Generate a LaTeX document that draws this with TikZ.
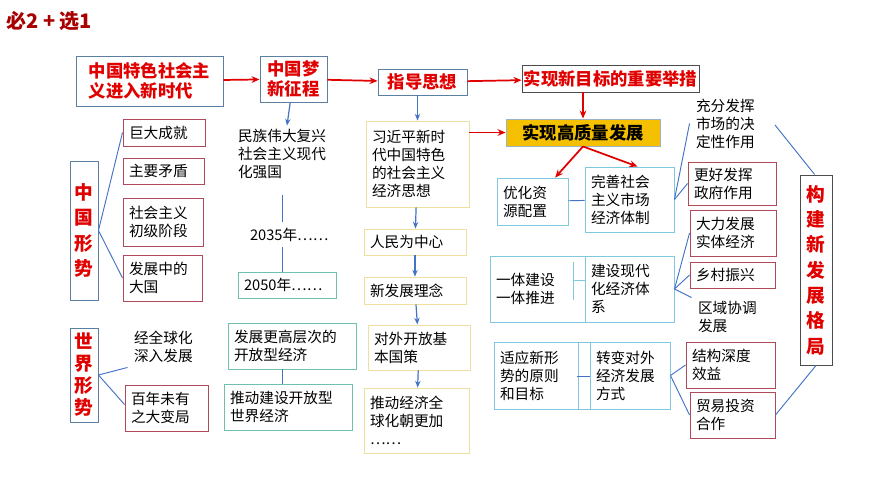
\documentclass[tikz,border=0pt]{standalone}
\usepackage{fontspec}
\setmainfont{Noto Sans CJK SC}
\usetikzlibrary{arrows.meta}
\definecolor{rd}{HTML}{E00000}
\definecolor{bg}{HTML}{5A7FA0}
\definecolor{pk}{HTML}{B04A5A}
\definecolor{tl}{HTML}{70C0B0}
\definecolor{lb}{HTML}{80C8E0}
\definecolor{yl}{HTML}{F0E0A0}
\definecolor{cb}{HTML}{4472C4}
\definecolor{og}{HTML}{F5C000}
\newcommand\mybox[7]{%
 \pgfmathsetmacro\bw{(#4-#2)*0.75}\pgfmathsetmacro\bh{(#5-#3)*0.75}\pgfmathsetmacro\tw{(#4-#2)*0.75-9}%
 \node[#6,minimum width=\bw pt,minimum height=\bh pt] (#1) at ({(#2+#4)/2},{(#3+#5)/2}) {#7};}
\tikzset{
 base/.style={inner sep=0pt,align=left,text width=\tw pt,font=\fontsize{11}{13.5}\selectfont,line width=0.7pt},
 tit/.style={base,text width=,draw=bg,text=rd,font=\fontsize{13}{15}\selectfont\bfseries,align=center},
 vt/.style={base,text width=,draw=bg,text=rd,font=\fontsize{14}{19}\selectfont\bfseries,align=center},
 pkb/.style={base,draw=pk},
 tlb/.style={base,draw=tl},
 lbb/.style={base,draw=lb},
 ylb/.style={base,draw=yl},
 nb/.style={base},
 rarr/.style={-{Stealth[length=6pt,width=5pt]},draw=rd,line width=1.3pt},
 barr/.style={-{Stealth[length=5pt,width=4pt]},draw=cb,line width=0.9pt},
 bl/.style={draw=cb,line width=0.7pt}
}
\begin{document}
\begin{tikzpicture}[x=0.75pt,y=-0.75pt]
\useasboundingbox[fill=white] (0,0) rectangle (870,489);
\node[anchor=west,text=rd!75!black,font=\fontsize{15}{17}\selectfont\bfseries,inner sep=0pt] (title) at (6,21) {必2 + 选1};
\mybox{A}{76}{56}{223}{106}{tit,align=left}{中国特色社会主\\义进入新时代}
\mybox{B}{260}{56}{327}{102}{tit}{中国梦\\新征程}
\mybox{C}{378}{69}{467}{95}{tit}{指导思想}
\mybox{D}{522}{65}{699}{92}{tit,draw=black!70}{实现新目标的重要举措}
\mybox{E}{506}{119}{660}{146}{tit,fill=og,draw=bg!60,text=black}{实现高质量发展}
\mybox{ZG}{70}{161}{98}{300}{vt}{中\\国\\形\\势}
\mybox{jd}{123}{119}{205}{146}{pkb}{巨大成就}
\mybox{zy}{123}{158}{204}{184}{pkb}{主要矛盾}
\mybox{cj}{123}{198}{203}{246}{pkb}{社会主义\\初级阶段}
\mybox{fz}{123}{255}{202}{301}{pkb}{发展中的\\大国}
\mybox{mz}{232}{126}{334}{182}{nb}{民族伟大复兴\\社会主义现代\\化强国}
\mybox{y35}{244}{222}{330}{247}{nb}{2035年……}
\mybox{y50}{238}{272}{336}{298}{tlb}{2050年……}
\mybox{SJ}{70}{328}{98}{422}{vt,font=\fontsize{14}{16.5}\selectfont\bfseries}{世\\界\\形\\势}
\mybox{qq}{128}{326}{198}{367}{nb}{经全球化\\深入发展}
\mybox{bn}{125}{385}{208}{431}{pkb}{百年未有\\之大变局}
\mybox{gc}{228}{323}{356}{369}{tlb}{发展更高层次的\\开放型经济}
\mybox{tk}{224}{384}{352}{430}{tlb}{推动建设开放型\\世界经济}
\mybox{xi}{366}{121}{469}{207}{ylb}{习近平新时\\代中国特色\\的社会主义\\经济思想}
\mybox{rm}{364}{229}{466}{255}{ylb}{人民为中心}
\mybox{xf}{364}{277}{466}{304}{ylb}{新发展理念}
\mybox{dw}{368}{325}{470}{370}{ylb}{对外开放基\\本国策}
\mybox{tq}{364}{388}{469}{453}{ylb}{推动经济全\\球化朝更加\\……}
\mybox{yh}{497}{178}{568}{225}{lbb}{优化资\\源配置}
\mybox{ws}{585}{167}{674}{232}{lbb}{完善社会\\主义市场\\经济体制}
\mybox{cf}{690}{95}{767}{152}{nb}{充分发挥\\市场的决\\定性作用}
\mybox{gh}{688}{162}{776}{205}{pkb}{更好发挥\\政府作用}
\mybox{dl}{690}{210}{776}{256}{pkb}{大力发展\\实体经济}
\mybox{xc}{690}{262}{775}{288}{pkb}{乡村振兴}
\mybox{qy}{692}{298}{767}{335}{nb}{区域协调\\发展}
\mybox{yt}{490}{256}{585}{322}{lbb}{一体建设\\一体推进}
\mybox{jx}{585}{256}{674}{322}{lbb}{建设现代\\化经济体\\系}
\draw[lb,line width=0.7pt] (573,262) -- (573,300) (573,280) -- (585,280);
\mybox{sy}{494}{342}{578}{409}{lbb}{适应新形\\势的原则\\和目标}
\mybox{gap}{578}{342}{590}{409}{lbb,text width=}{}
\mybox{zb}{590}{342}{670}{409}{lbb}{转变对外\\经济发展\\方式}
\draw[bl] (577,376) -- (590,376);
\mybox{jg}{686}{342}{775}{388}{pkb}{结构深度\\效益}
\mybox{my}{690}{392}{775}{438}{pkb}{贸易投资\\合作}
\mybox{GJ}{800}{175}{832}{365}{vt,draw=black!70}{构\\建\\新\\发\\展\\格\\局}
\coordinate (c1) at (775,125);
% red arrows
\draw[rarr] (A) -- (B);
\draw[rarr] (B) -- (C);
\draw[rarr] (C) -- (D);
\draw[rarr] (E.north|-D.south) -- (E.north);
\draw[rarr] (xi.east|-E) -- (E.west);
\draw[rarr] (E.south) -- ([xshift=-10pt]yh.north east);
\draw[rarr] (E.south) -- ([xshift=6pt]ws.north);
% blue arrows
\draw[barr] (B) -- (mz);
\draw[barr] (C.south-|xi) -- (xi);
\draw[barr] (xi) -- (rm);
\draw[barr] (rm) -- (xf);
\draw[barr] (xf) -- (dw);
\draw[barr] (dw) -- (tq);
% lines
\draw[bl] (282,195) -- (y35.north-|282,0);
\draw[bl] (y35.south-|282,0) -- (y50.north-|282,0);
\draw[bl] (ZG.east) -- (jd.west);
\draw[bl] (ZG.east) -- (fz.west);
\draw[bl] (SJ.east) -- (qq.south west);
\draw[bl] (SJ.east) -- ([yshift=-15pt]bn.north west);
\draw[bl] (gc.south-|282,0) -- (tk.north-|282,0);
\draw[bl] (yh) -- (ws);
\draw[bl] (ws.east) -- (cf.west);
\draw[bl] (ws.east) -- (gh.west);
\draw[bl] (jx.east) -- (dl.west);
\draw[bl] (jx.east) -- (xc.west);
\draw[bl] (jx.east) -- (qy.north west);
\draw[bl] (zb.east) -- (jg.west);
\draw[bl] (zb.east) -- (my.west);
\draw[bl] (c1) -- ([xshift=-1pt]GJ.north);
\draw[bl] (my.east) -- (GJ.south);
\end{tikzpicture}
\end{document}
